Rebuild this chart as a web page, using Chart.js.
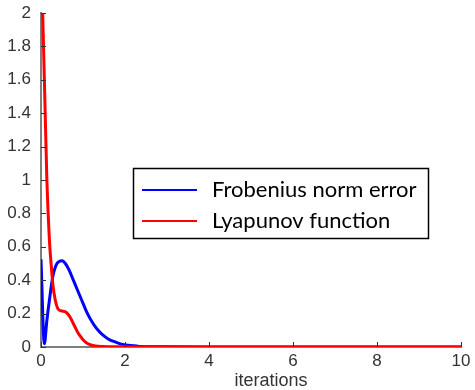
<!DOCTYPE html>
<html>
<head>
<meta charset="utf-8">
<script src="https://cdn.jsdelivr.net/npm/chart.js@4/dist/chart.umd.min.js"></script>
<style>
  body { margin: 0; background: #fff; }
  canvas { display: block; }
</style>
</head>
<body>
<canvas id="graphique" width="475" height="390"></canvas>
<script>
// valeurs
const iterFrob = [0, 0.08, 0.14, 0.2, 0.28, 0.38, 0.5, 0.58, 0.67, 0.77, 0.87, 0.97, 1.07, 1.17, 1.27, 1.37, 1.47, 1.6, 1.7, 1.85, 2.02, 2.3, 2.6, 3, 4, 6, 8, 10];
const frobError = [0.525, 0.02, 0.16, 0.28, 0.42, 0.5, 0.517, 0.5, 0.46, 0.4, 0.34, 0.28, 0.22, 0.17, 0.13, 0.097, 0.072, 0.048, 0.036, 0.022, 0.012, 0.005, 0.002, 0.001, 0, 0, 0, 0];
const iterLyap = [0.04, 0.09, 0.14, 0.2, 0.24, 0.28, 0.34, 0.4, 0.46, 0.52, 0.58, 0.63, 0.69, 0.75, 0.81, 0.87, 0.93, 0.99, 1.08, 1.19, 1.3, 1.47, 1.8, 2.5, 4, 6, 8, 10];
const lyapunov = [2, 1.5, 1.0, 0.64, 0.5, 0.38, 0.28, 0.23, 0.218, 0.215, 0.21, 0.2, 0.18, 0.15, 0.12, 0.09, 0.066, 0.047, 0.026, 0.012, 0.006, 0.003, 0.001, 0, 0, 0, 0, 0];
const xTicks = [0, 2, 4, 6, 8, 10];
const yTicks = [0, 0.2, 0.4, 0.6, 0.8, 1, 1.2, 1.4, 1.6, 1.8, 2];
const seriesLabels = ["Frobenius norm error", "Lyapunov function"];
const seriesColors = ["#0000ff", "#ff0000"];

function points(xs, ys) {
  return xs.map((x, i) => ({ x: x, y: ys[i] }));
}

// petites graduations vers l'intérieur + légende encadrée + titre de l'axe x
const decor = {
  id: "decor",
  afterDraw(chart) {
    const ctx = chart.ctx;
    const area = chart.chartArea;
    const sx = chart.scales.x;
    const sy = chart.scales.y;
    ctx.save();
    ctx.strokeStyle = "#333";
    ctx.lineWidth = 1;
    ctx.beginPath();
    for (const v of xTicks) {
      const px = Math.round(sx.getPixelForValue(v)) + 0.5;
      ctx.moveTo(px, area.bottom);
      ctx.lineTo(px, area.bottom - 5);
    }
    for (const v of yTicks) {
      const py = Math.round(sy.getPixelForValue(v)) + 0.5;
      ctx.moveTo(area.left, py);
      ctx.lineTo(area.left + 5, py);
    }
    ctx.stroke();

    // légende
    ctx.fillStyle = "#fff";
    ctx.fillRect(133, 168, 295, 70);
    ctx.strokeStyle = "#000";
    ctx.lineWidth = 1.5;
    ctx.strokeRect(133.5, 168.5, 295, 70);
    const rows = [190, 221];
    ctx.font = '22px Lato';
    ctx.textBaseline = "alphabetic";
    for (let i = 0; i < seriesLabels.length; i++) {
      ctx.strokeStyle = seriesColors[i];
      ctx.lineWidth = 2;
      ctx.beginPath();
      ctx.moveTo(142, rows[i]);
      ctx.lineTo(197, rows[i]);
      ctx.stroke();
      ctx.fillStyle = "#000";
      ctx.fillText(seriesLabels[i], 212, rows[i] + 7);
    }

    ctx.fillStyle = "#333";
    ctx.font = '18px "Liberation Sans"';
    ctx.textAlign = "center";
    ctx.fillText("iterations", 271, 386);
    ctx.restore();
  }
};

new Chart(document.querySelector("#graphique"), {
  type: "line",
  data: {
    datasets: [
      {
        label: seriesLabels[0],
        data: points(iterFrob, frobError),
        borderColor: seriesColors[0],
        borderWidth: 3,
        pointRadius: 0,
        cubicInterpolationMode: "monotone",
        order: 1,
      },
      {
        label: seriesLabels[1],
        data: points(iterLyap, lyapunov),
        borderColor: seriesColors[1],
        borderWidth: 3,
        pointRadius: 0,
        cubicInterpolationMode: "monotone",
        order: 0,
      },
    ],
  },
  options: {
    responsive: false,
    animation: false,
    layout: { padding: { top: 13, right: 14, left: 0, bottom: 0 } },
    plugins: { legend: { display: false }, tooltip: { enabled: false } },
    scales: {
      x: {
        type: "linear",
        min: 0,
        max: 10,
        afterFit(scale) { scale.height = 43; scale.paddingLeft = 0; scale.paddingRight = 0; },
        afterBuildTicks(scale) { scale.ticks = xTicks.map((v) => ({ value: v })); },
        grid: { display: false, drawTicks: false },
        border: { color: "#7f7f7f", width: 2 },
        ticks: { color: "#333", font: { family: "Liberation Sans", size: 17 }, padding: 4, maxRotation: 0 },
      },
      y: {
        min: 0,
        max: 2,
        afterFit(scale) { scale.width = 41; scale.paddingTop = 0; scale.paddingBottom = 0; },
        afterBuildTicks(scale) { scale.ticks = yTicks.map((v) => ({ value: v })); },
        grid: { display: false, drawTicks: false },
        border: { color: "#7f7f7f", width: 2 },
        ticks: {
          color: "#333",
          font: { family: "Liberation Sans", size: 17 },
          padding: 10,
          callback: (v) => String(Math.round(v * 10) / 10),
        },
      },
    },
  },
  plugins: [decor],
});
</script>
</body>
</html>
